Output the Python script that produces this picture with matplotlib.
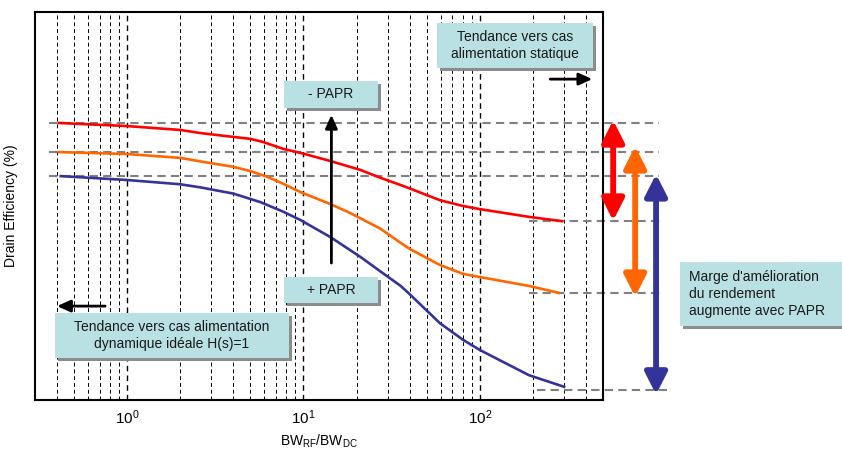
import matplotlib
matplotlib.use('Agg')
import matplotlib.pyplot as plt
from matplotlib.patches import Rectangle
from matplotlib.ticker import LogLocator, FixedLocator, NullFormatter

# ============================================================
# Data
# ============================================================

bw_red = [0.41, 1, 2, 2.6, 5, 5.9, 7.7, 9.6, 14.2, 21, 27.2, 35.6, 40.2,
          59.4, 80.4, 100, 190, 292]
eff_red = [71.4, 70.6, 69.6, 68.8, 67.3, 66.5, 64.7, 63.7, 61.6, 59.3, 57.3,
           55.4, 54.5, 51.5, 50.0, 49.2, 47.2, 46.1]

bw_orange = [0.41, 1, 2, 2.6, 4, 5, 6.25, 7.7, 9.6, 14.2, 18.4, 27.2, 35.6,
             40.2, 59.4, 80.4, 100, 190, 282]
eff_orange = [63.9, 63.4, 62.4, 61.5, 60.1, 59.0, 57.5, 55.7, 53.6, 50.5, 48.2,
              44.2, 40.5, 38.9, 34.8, 32.5, 31.7, 29.4, 27.6]

bw_blue = [0.42, 1, 2, 2.6, 4, 5.7, 7.7, 9.6, 14.2, 21, 27.2, 35.6, 40.2,
           59.4, 80.4, 100, 190, 301]
eff_blue = [57.7, 56.7, 55.6, 54.8, 53.2, 51.0, 48.5, 46.4, 42.0, 36.9, 33.2,
            29.4, 27.2, 19.8, 15.5, 12.9, 6.4, 3.4]

x_ticks = [1, 10, 100]
x_tick_labels = ['$10^{0}$', '$10^{1}$', '$10^{2}$']

# ============================================================
# Style
# ============================================================

plt.rcParams['font.family'] = ['Liberation Sans', 'DejaVu Sans']
plt.rcParams['mathtext.fontset'] = 'custom'
plt.rcParams['mathtext.rm'] = 'Liberation Sans'
plt.rcParams['mathtext.default'] = 'regular'

W, H = 842, 449
BOX_COLOR = '#B9E0E3'
GUIDE = '#808080'

fig = plt.figure(figsize=(W / 100, H / 100), dpi=100)
ax = fig.add_axes([35 / W, 1 - 400 / H, 568 / W, 388 / H])

# ---- curves ----
ax.plot(bw_red, eff_red, color='#FF0000', lw=1.9, zorder=3)
ax.plot(bw_orange, eff_orange, color='#FF6600', lw=1.9, zorder=3)
ax.plot(bw_blue, eff_blue, color='#333399', lw=1.9, zorder=3)

ax.set_xscale('log')
ax.set_xlim(0.3, 500)
ax.set_ylim(0, 100)

ax.xaxis.set_major_locator(FixedLocator(x_ticks))
ax.set_xticklabels(x_tick_labels, fontsize=11)
ax.xaxis.set_minor_locator(LogLocator(base=10, subs=range(2, 10), numticks=20))
ax.xaxis.set_minor_formatter(NullFormatter())
ax.set_yticks([])
ax.tick_params(axis='x', which='both', length=0, pad=6)

ax.grid(True, which='major', axis='x', color='k', ls=(0, (4, 3)), lw=1.0)
ax.grid(True, which='minor', axis='x', color='k', ls=(0, (4, 3)), lw=0.7)
for s in ax.spines.values():
    s.set_linewidth(1.5)

ax.set_xlabel('BW$_{RF}$/BW$_{DC}$', fontsize=10, labelpad=4)
ax.set_ylabel('Drain Efficiency (%)', fontsize=10, labelpad=12)

# ---- gray guide lines at start / end levels ----
for e in (eff_red[0], eff_orange[0], eff_blue[0]):
    ax.plot([0.36, 1040], [e, e], color=GUIDE, lw=1.5, ls=(0, (4, 2.5)),
            clip_on=False, zorder=2)
for e in (eff_red[-1], eff_orange[-1]):
    ax.plot([190, 1060], [e, e], color=GUIDE, lw=1.5, ls=(0, (4, 2.5)),
            clip_on=False, zorder=2)
ax.plot([210, 1150], [eff_blue[-1] - 0.8] * 2, color=GUIDE, lw=1.5,
        ls=(0, (4, 2.5)), clip_on=False, zorder=2)

# ---- coloured double arrows (efficiency margin) ----
def double_arrow(x, y0, y1, color):
    ax.annotate('', xy=(x, y1), xytext=(x, y0), annotation_clip=False,
                arrowprops=dict(arrowstyle='<|-|>,head_length=0.65,head_width=0.33',
                                mutation_scale=20, lw=4.2, color=color,
                                shrinkA=0, shrinkB=0))

double_arrow(571, 72.1, 46.2, '#FF0000')
double_arrow(761, 65.4, 26.6, '#FF6600')
double_arrow(1000, 58.2, 1.4, '#333399')

# ---- black arrows ----
def black_arrow(x0, y0, x1, y1):
    ax.annotate('', xy=(x1, y1), xytext=(x0, y0), annotation_clip=False,
                arrowprops=dict(arrowstyle='-|>,head_length=0.4,head_width=0.18',
                                mutation_scale=20, lw=2, color='k',
                                shrinkA=0, shrinkB=0), zorder=4)

black_arrow(14.4, 35.3, 14.4, 73.5)
black_arrow(0.75, 24.2, 0.40, 24.2)
black_arrow(251, 82.7, 435, 82.7)

# ---- text boxes (pixel layout) ----
def box(x0, y0, x1, y1, text, ha='center', tx=None):
    fx0, fx1 = x0 / W, x1 / W
    fy0, fy1 = 1 - y1 / H, 1 - y0 / H
    fig.patches.append(Rectangle((fx0 + 3 / W, fy0 - 3 / H), fx1 - fx0, fy1 - fy0,
                                 transform=fig.transFigure, facecolor='#8C8C8C',
                                 edgecolor='none', zorder=5))
    fig.patches.append(Rectangle((fx0, fy0), fx1 - fx0, fy1 - fy0,
                                 transform=fig.transFigure, facecolor=BOX_COLOR,
                                 edgecolor='none', zorder=6))
    if ha == 'center':
        x = (fx0 + fx1) / 2
    else:
        x = tx / W
    fig.text(x, (fy0 + fy1) / 2, text, ha=ha, va='center', fontsize=10,
             linespacing=1.3, color='#1A1A1A', zorder=7)

box(284, 81, 378, 108, '- PAPR')
box(284, 277, 378, 303, '+ PAPR')
box(55, 313, 289, 358, 'Tendance vers cas alimentation\ndynamique idéale H(s)=1')
box(437, 23, 593, 68, 'Tendance vers cas\nalimentation statique')
box(680, 262, 842, 326, "Marge d'amélioration\ndu rendement\naugmente avec PAPR",
    ha='left', tx=689)

fig.savefig('out.png', dpi=100)
